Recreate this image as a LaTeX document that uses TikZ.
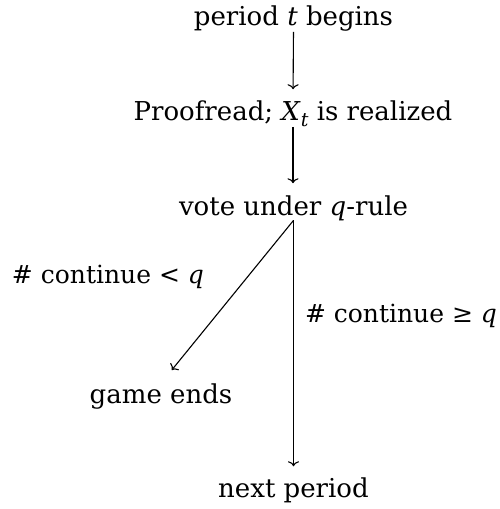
\documentclass[tikz,border=0pt]{standalone}
\usepackage{fontspec}
\setmainfont{DejaVu Serif}
\usetikzlibrary{arrows.meta}
\newcommand{\vi}[1]{\textit{#1}}
\newcommand{\subt}{\raisebox{-0.25em}{\fontsize{19}{22}\selectfont\itshape t}}
\begin{document}
\begin{tikzpicture}[x=1pt,y=-1pt,
  lbl/.style={inner sep=0pt, outer sep=0pt, anchor=base, font=\fontsize{26}{31}\selectfont},
  edgelbl/.style={lbl, font=\fontsize{25}{30}\selectfont},
  arr/.style={-{To[length=5pt,width=11pt]}, line width=1.1pt}]
\useasboundingbox (0,0) rectangle (499,509);
\node[lbl] (a) at (293.5,25) {period \vi{t} begins};
\node[lbl] (b) at (293,120) {Proofread; \vi{X}\subt{} is realized};
\node[lbl] (c) at (293.5,215) {vote under \vi{q}-rule};
\node[lbl] (d) at (161,403) {game ends};
\node[lbl] (e) at (293.5,497) {next period};
\node[edgelbl, anchor=base west] (l1) at (12,283) {\# continue < \vi{q}};
\node[edgelbl, anchor=base west] (l2) at (305,322) {\# continue ≥ \vi{q}};
\draw[arr, shorten <=1pt, shorten >=11pt] (a.south) -- (b.north);
\draw[arr, shorten >=12pt] (b.south) -- (b.north |- c.north);
\draw[arr, shorten >=17pt] (c.south) -- (d.north);
\draw[arr, shorten >=11pt] (c.south) -- (c.south |- e.north);
\end{tikzpicture}
\end{document}
